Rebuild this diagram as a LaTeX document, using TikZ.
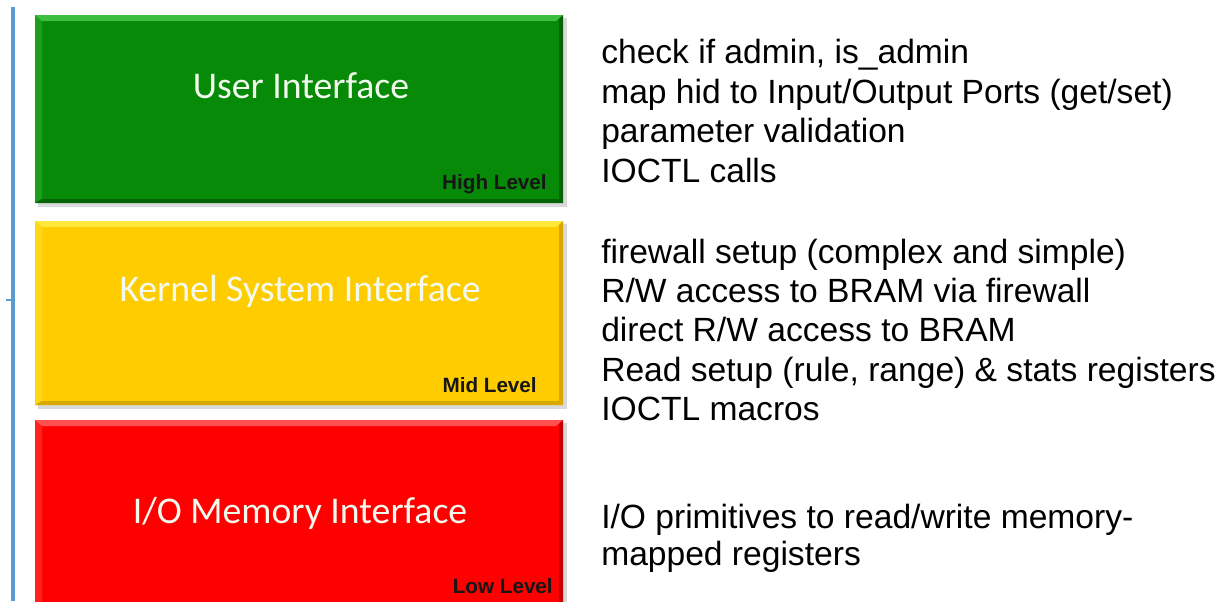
\documentclass[tikz,border=0pt]{standalone}
\usepackage{fontspec}
\setmainfont{Liberation Sans}
\newfontfamily\titlefont{Carlito}
\usetikzlibrary{calc}

\definecolor{axisblue}{HTML}{5B9BD5}
\definecolor{grnmain}{HTML}{078A07}
\definecolor{grnlight}{HTML}{3DBE3D}
\definecolor{grndark}{HTML}{056405}
\definecolor{ylwmain}{HTML}{FFCC00}
\definecolor{ylwlight}{HTML}{FFE83A}
\definecolor{ylwdark}{HTML}{D9A800}
\definecolor{redmain}{HTML}{FF0000}
\definecolor{redlight}{HTML}{FF5050}
\definecolor{reddark}{HTML}{C80000}
\definecolor{lvltext}{HTML}{161616}
\definecolor{titletext}{HTML}{F2FAEE}

\tikzset{
  boxtitle/.style={text=titletext, font=\titlefont\fontsize{28.3}{31}\selectfont, inner sep=0pt},
  lvllabel/.style={text=lvltext, font=\bfseries\fontsize{15.5}{17}\selectfont, anchor=base east, inner sep=0pt},
  desc/.style={text=black, font=\fontsize{25.2}{29}\selectfont, anchor=base west, inner sep=0pt},
}

% bevelled layer block: #1 = name, #2 = top y, #3 = bottom y, #4 = colour prefix
\newcommand{\layerblock}[4]{%
  \fill[black, opacity=0.15] (38,#2+3) rectangle (567,#3+4);
  \fill[#4main] (35,#2) rectangle (563,#3);
  \fill[#4light] (35,#2) -- (563,#2) -- (556,#2+6) -- (42,#2+6) -- cycle;
  \fill[#4light, opacity=0.4] (35,#2) -- (42,#2+6) -- (42,#3-4) -- (35,#3) -- cycle;
  \fill[#4dark] (563,#2) -- (563,#3) -- (559,#3-4) -- (559,#2+4) -- cycle;
  \fill[#4dark] (35,#3) -- (563,#3) -- (559,#3-4) -- (42,#3-4) -- cycle;
  \coordinate (#1) at (299,{(#2+#3)/2});
}

\begin{document}
\begin{tikzpicture}[x=0.75pt, y=-0.75pt]
  \clip (0,0) rectangle (1227,601);
  \fill[white] (0,0) rectangle (1227,601);

  % vertical axis with its tick
  \coordinate (axtop) at (13,7);
  \coordinate (axbot) at (13,601);
  \coordinate (tickl) at (6,300);
  \coordinate (tickr) at (13,300);
  \draw[axisblue, line width=2.6pt] (axtop) -- (axbot);
  \draw[axisblue, line width=1pt] (tickl) -- (tickr);

  % layer blocks
  \layerblock{ui}{15}{203}{grn}
  \layerblock{ksi}{221}{405}{ylw}
  \layerblock{iom}{420}{612}{red}

  \node[boxtitle] (uit) at (301,86) {User Interface};
  \node[boxtitle] (ksit) at (300,291) {Kernel System Interface};
  \node[boxtitle] (iomt) at (300,513) {I/O Memory Interface};

  \node[lvllabel] (uil) at (547,189) {High Level};
  \node[lvllabel] (ksil) at (537,392) {Mid Level};
  \node[lvllabel] (ioml) at (553,593) {Low Level};

  % descriptions
  \node[desc] (d1a) at (601,63) {check if admin, is\_admin};
  \node[desc] (d1b) at (601,103) {map hid to Input/Output Ports (get/set)};
  \node[desc] (d1c) at (601,142) {parameter validation};
  \node[desc] (d1d) at (601,182) {IOCTL calls};

  \node[desc] (d2a) at (601,263) {firewall setup (complex and simple)};
  \node[desc] (d2b) at (601,302) {R/W access to BRAM via firewall};
  \node[desc] (d2c) at (601,341) {direct R/W access to BRAM};
  \node[desc] (d2d) at (601,381) {Read setup (rule, range) \& stats registers};
  \node[desc] (d2e) at (601,420) {IOCTL macros};

  \node[desc] (d3a) at (601,528) {I/O primitives to read/write memory-};
  \node[desc] (d3b) at (601,565) {mapped registers};
\end{tikzpicture}
\end{document}
